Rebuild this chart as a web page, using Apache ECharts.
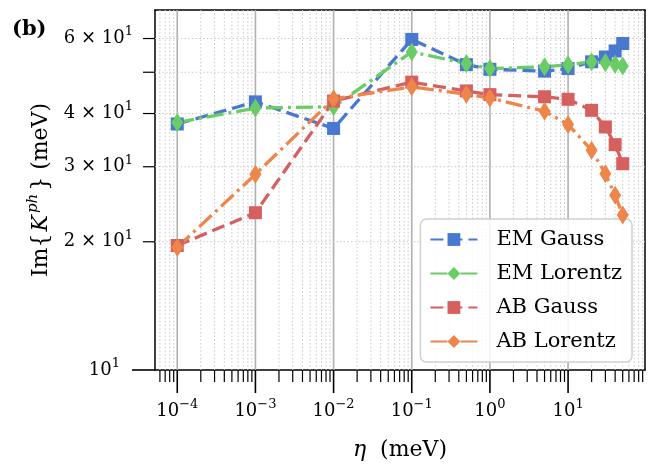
<!DOCTYPE html>
<html>
<head>
<meta charset="utf-8">
<script src="https://cdn.jsdelivr.net/npm/echarts@6/dist/echarts.min.js"></script>
<style>html,body{margin:0;padding:0;background:#fff}#c{width:667px;height:466px}</style>
</head>
<body>
<div id="c"></div>
<script>
// ---- data ----
const eta = [1e-4, 1e-3, 1e-2, 1e-1, 0.5, 1, 5, 10, 20, 30, 40, 50];
const emGauss   = [37.8, 42.6, 36.9, 59.7, 52.1, 50.8, 50.3, 51.0, 52.9, 54.3, 56.1, 58.4];
const emLorentz = [38.1, 41.2, 41.5, 55.8, 52.4, 51.0, 51.5, 52.1, 52.9, 52.6, 52.2, 51.7];
const abGauss   = [19.6, 23.4, 42.8, 47.4, 45.2, 44.3, 43.8, 43.2, 40.7, 37.2, 33.8, 30.5];
const abLorentz = [19.4, 28.8, 43.3, 46.2, 44.4, 43.5, 40.5, 37.7, 32.8, 28.9, 25.7, 23.1];
const seriesNames = ['EM Gauss', 'EM Lorentz', 'AB Gauss', 'AB Lorentz'];
// tick labels
const xDecades = [-4, -3, -2, -1, 0, 1];           // labelled x ticks: 10^e
const yMinorTicks = [20, 30, 40, 50, 60];          // minor y ticks
const yMinorLabelVals = [20, 30, 40, 60];          // labelled minor y ticks
const yMinorLabelMant = ['2', '3', '4', '6'];      // mantissa × 10^1
const yMajorExp = 1;                               // 10^1 label

// ---- axis limits ----
const X_MIN = 5.19e-5, X_MAX = 96.4, Y_MIN = 10, Y_MAX = 70;

const FONT = 'DejaVu Serif';
const supRich = {
  b:   { fontFamily: FONT, fontSize: 18, color: '#000', lineHeight: 26 },
  sup: { fontFamily: FONT, fontSize: 13, color: '#000', lineHeight: 13, verticalAlign: 'top' }
};
function fmtExp(e) { return String(e).replace('-', '\u2212'); }

// x grid / tick positions (decade * 1..9)
const xGrid = [];
for (let e = -5; e <= 2; e++) {
  for (let m = 1; m <= 9; m++) {
    const v = m * Math.pow(10, e);
    if (v >= X_MIN && v <= X_MAX) xGrid.push([v, Y_MIN, m === 1 ? 1 : 0]);
  }
}
const yGrid = [[X_MIN, Y_MIN, 1]].concat(yMinorTicks.map(v => [X_MIN, v, 0]));

const colors = ['#4878d0', '#6acc64', '#d65f5f', '#ee854a'];
const dashed = [13, 6];
const dashdot = [17, 5, 3, 5];

function mk(name, vals, color, dash, symbol, size) {
  return {
    name, type: 'line', data: eta.map((x, i) => [x, vals[i]]),
    symbol, symbolSize: size, showSymbol: true,
    itemStyle: { color: color, borderWidth: 0 },
    lineStyle: { color: color, width: 3.3, type: dash },
    z: 5, animation: false, silent: true
  };
}

const chart = echarts.init(document.getElementById('c'));
chart.setOption({
  animation: false,
  backgroundColor: '#fff',
  grid: { left: 155, right: 22, top: 10, bottom: 95, containLabel: false },
  xAxis: [{
    type: 'log', min: X_MIN, max: X_MAX, logBase: 10,
    axisLine: { show: true, onZero: false, lineStyle: { color: '#000', width: 1.5 } },
    axisTick: { show: false },
    splitLine: { show: false },
    axisLabel: {
      margin: 28,
      formatter: function (v) {
        const l = Math.log10(v), r = Math.round(l);
        if (Math.abs(l - r) > 1e-6 || xDecades.indexOf(r) < 0) return '';
        return '{b|10}{sup|' + fmtExp(r) + '}';
      },
      rich: supRich, showMinLabel: true, showMaxLabel: true
    },
    name: '{it|\u03b7}{n|  (meV)}', nameLocation: 'middle', nameGap: 69,
    nameTextStyle: { rich: { it: { fontFamily: FONT, fontSize: 22, fontStyle: 'italic', color: '#000' }, n: { fontFamily: FONT, fontSize: 22, color: '#000' } } }
  }, {
    type: 'log', min: X_MIN, max: X_MAX, position: 'top',
    axisLine: { show: true, onZero: false, lineStyle: { color: '#000', width: 1.5 } },
    axisTick: { show: false }, axisLabel: { show: false }, splitLine: { show: false }
  }],
  yAxis: [{
    type: 'log', min: Y_MIN, max: Y_MAX, logBase: 10,
    axisLine: { show: true, onZero: false, lineStyle: { color: '#000', width: 1.5 } },
    axisTick: { show: false },
    splitLine: { show: false },
    axisLabel: {
      margin: 35,
      formatter: function (v) {
        const l = Math.log10(v), r = Math.round(l);
        if (Math.abs(l - r) > 1e-6 || r !== yMajorExp) return '';
        return '{b|10}{sup|' + fmtExp(r) + '}';
      },
      rich: supRich
    },
    name: 'Im{{i|K}{s|ph}} (meV)', nameLocation: 'middle', nameGap: 99,
    nameTextStyle: {
      fontFamily: FONT, fontSize: 22, color: '#000', lineHeight: 30,
      rich: {
        i: { fontFamily: FONT, fontSize: 22, fontStyle: 'italic', color: '#000', lineHeight: 30, padding: [0, 2, 0, 2] },
        s: { fontFamily: FONT, fontSize: 15, fontStyle: 'italic', color: '#000', lineHeight: 15, verticalAlign: 'top', padding: [0, 3, 0, 0] }
      }
    }
  }, {
    type: 'log', min: Y_MIN, max: Y_MAX, position: 'right',
    axisLine: { show: true, onZero: false, lineStyle: { color: '#000', width: 1.5 } },
    axisTick: { show: false }, axisLabel: { show: false }, splitLine: { show: false }
  }],
  legend: {
    data: seriesNames, orient: 'vertical', right: 35, top: 219,
    padding: [10, 10, 10, 9], itemGap: 13, itemWidth: 47, itemHeight: 16,
    backgroundColor: 'rgba(255,255,255,0.85)', borderColor: '#d0d0d0', borderWidth: 1.5, borderRadius: 6,
    textStyle: { fontFamily: FONT, fontSize: 21, color: '#000', padding: [0, 0, 0, 14] }
  },
  graphic: [{
    type: 'text', left: 12, top: 19,
    style: { text: '(b)', font: 'bold 21px "DejaVu Serif"', fill: '#000' }
  }],
  series: [
    {
      type: 'custom', name: 'xgrid', coordinateSystem: 'cartesian2d', silent: true, z: 1, clip: false,
      encode: { x: 0, y: 1 }, data: xGrid,
      renderItem: function (params, api) {
        const x = api.value(0), major = api.value(2) === 1;
        const b = api.coord([x, Y_MIN]), t = api.coord([x, Y_MAX]);
        return { type: 'group', children: [
          { type: 'line', shape: { x1: b[0], y1: t[1], x2: b[0], y2: b[1] },
            style: major ? { stroke: '#b0b0b0', lineWidth: 1.6 } : { stroke: '#c8c8c8', lineWidth: 1, lineDash: [1.5, 2.2] } },
          { type: 'line', shape: { x1: b[0], y1: b[1], x2: b[0], y2: b[1] + (major ? 23 : 12) },
            style: { stroke: '#000', lineWidth: major ? 1.6 : 1.2 } }
        ] };
      }
    },
    {
      type: 'custom', name: 'ygrid', coordinateSystem: 'cartesian2d', silent: true, z: 1, clip: false,
      encode: { x: 0, y: 1 }, data: yGrid,
      renderItem: function (params, api) {
        const y = api.value(1), major = api.value(2) === 1;
        const l = api.coord([X_MIN, y]), r = api.coord([X_MAX, y]);
        const children = [
          { type: 'line', shape: { x1: l[0] - (major ? 23 : 12), y1: l[1], x2: l[0], y2: l[1] },
            style: { stroke: '#000', lineWidth: major ? 1.6 : 1.2 } }
        ];
        if (!major) children.push({ type: 'line', shape: { x1: l[0], y1: l[1], x2: r[0], y2: r[1] },
          style: { stroke: '#c8c8c8', lineWidth: 1, lineDash: [1.5, 2.2] } });
        const k = yMinorLabelVals.indexOf(y);
        if (k >= 0) children.push({ type: 'text', x: l[0] - 22, y: l[1],
          style: { text: '{b|' + yMinorLabelMant[k] + ' \u00d7 10}{sup|' + fmtExp(yMajorExp) + '}', rich: supRich, align: 'right', verticalAlign: 'middle' } });
        return { type: 'group', children: children };
      }
    },
    mk(seriesNames[0], emGauss,   colors[0], dashed,  'rect',    13),
    mk(seriesNames[1], emLorentz, colors[1], dashdot, 'diamond', [12, 19]),
    mk(seriesNames[2], abGauss,   colors[2], dashed,  'rect',    13),
    mk(seriesNames[3], abLorentz, colors[3], dashdot, 'diamond', [12, 19])
  ]
});
</script>
</body>
</html>
